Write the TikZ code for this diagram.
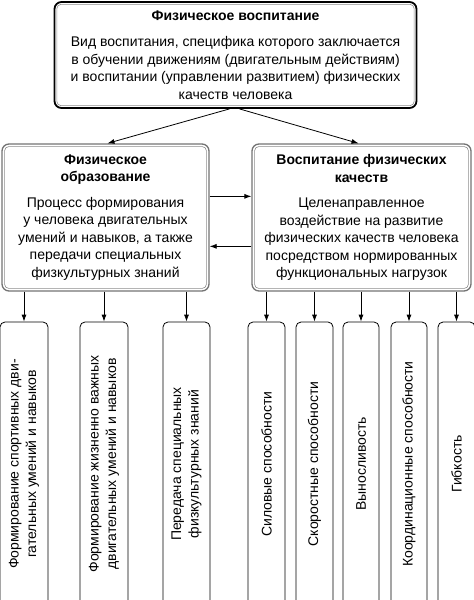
\documentclass[tikz,border=0pt]{standalone}
\usepackage{fontspec}
\setmainfont{Liberation Sans}
\usetikzlibrary{shapes,arrows,positioning,calc,arrows.meta}

\begin{document}
\begin{tikzpicture}[x=1pt, y=-1pt, font=\fontsize{14}{17.5}\selectfont,
    bigbox/.style={draw, line width=1.8pt, rounded corners=7pt, align=center, inner sep=0pt},
    midbox/.style={draw=black!55, line width=1.3pt, rounded corners=7pt, align=center, inner sep=0pt},
    innerline/.style={draw=black!45, line width=0.6pt, rounded corners=4pt},
    vbox/.style={draw, line width=0.8pt, rotate=90, rounded corners=5pt, minimum width=284pt, align=center, inner sep=0pt},
    arr/.style={-{Latex[length=7pt,width=5pt]}, line width=0.8pt}]
    \useasboundingbox (0,0) rectangle (474,600);
    \clip (0,0) rectangle (474,600);

    \node [bigbox, minimum width=362pt, minimum height=106pt] (phys) at (235.5,55) {\textbf{Физическое воспитание}\\[9pt]
        Вид воспитания, специфика которого заключается\\
        в обучении движениям (двигательным действиям)\\
        и воспитании (управлении развитием) физических\\
        качеств человека};

    \node [midbox, minimum width=207pt, minimum height=147pt] (educ) at (105.5,217.5) {\textbf{Физическое}\\\textbf{образование}\\[8pt]
        Процесс формирования\\
        у человека двигательных\\
        умений и навыков, а также\\
        передачи специальных\\
        физкультурных знаний};

    \node [midbox, minimum width=219pt, minimum height=147pt] (qual) at (361.5,217.5) {\textbf{Воспитание физических}\\\textbf{качеств}\\[8pt]
        Целенаправленное\\
        воздействие на развитие\\
        физических качеств человека\\
        посредством нормированных\\
        функциональных нагрузок};

    % double frames
    \foreach \n in {phys,educ,qual}
        \draw [innerline] ([shift={(3.3,3.3)}]\n.north west) rectangle ([shift={(-3.3,-3.3)}]\n.south east);

    \draw [arr] ([xshift=-6pt]phys.south) -- ([xshift=2pt]educ.north);
    \draw [arr] ([xshift=4pt]phys.south) -- ([xshift=-3pt]qual.north);

    \coordinate (e1) at ([yshift=-53pt]educ.north east);
    \coordinate (e2) at ([yshift=-103pt]qual.north west);
    \draw [arr] (e1) -- (e1 -| qual.west);
    \draw [arr] (e2) -- (e2 -| educ.east);

    % education tasks
    \node [vbox, minimum height=48pt] (t1) at (24,464) {Формирование спортивных дви-\\гательных умений и навыков};
    \node [vbox, minimum height=48pt] (t2) at (104,464) {Формирование жизненно важных\\двигательных умений и навыков};
    \node [vbox, minimum height=47pt] (t3) at (186.5,464) {Передача специальных\\физкультурных знаний};

    % physical qualities
    \node [vbox, minimum height=37pt] (q1) at (266.5,464) {Силовые способности};
    \node [vbox, minimum height=37pt] (q2) at (314.5,464) {Скоростные способности};
    \node [vbox, minimum height=36pt] (q3) at (361,464) {Выносливость};
    \node [vbox, minimum height=36pt] (q4) at (409,464) {Координационные способности};
    \node [vbox, minimum height=37pt] (q5) at (456.5,464) {Гибкость};

    \foreach \b in {t1,t2,t3}
        \draw [arr] (\b.east |- educ.south) -- (\b.east);
    \foreach \b in {q1,q2,q3,q4,q5}
        \draw [arr] (\b.east |- qual.south) -- (\b.east);
\end{tikzpicture}
\end{document}
